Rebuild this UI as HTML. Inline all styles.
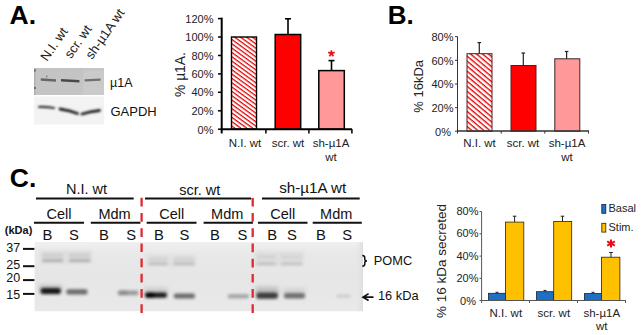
<!DOCTYPE html>
<html><head><meta charset="utf-8"><style>
html,body{margin:0;padding:0;background:#fff;width:641px;height:335px;overflow:hidden;}
svg{display:block;font-family:"Liberation Sans",sans-serif;}
</style></head><body>
<svg width="641" height="335" viewBox="0 0 641 335">
<defs>
<pattern id="hatch" patternUnits="userSpaceOnUse" width="8" height="3.5" patternTransform="rotate(36)">
<rect width="8" height="3.5" fill="#fff"/><rect width="8" height="1.25" fill="#e00000"/>
</pattern>
<pattern id="hatchB" patternUnits="userSpaceOnUse" width="8" height="3.85" patternTransform="rotate(40)">
<rect width="8" height="3.85" fill="#fff"/><rect width="8" height="1.35" fill="#e00000"/>
</pattern>
<filter id="b08" x="-50%" y="-50%" width="200%" height="200%"><feGaussianBlur stdDeviation="0.7"/></filter>
<filter id="b1" x="-50%" y="-50%" width="200%" height="200%"><feGaussianBlur stdDeviation="1"/></filter>
<filter id="b12" x="-50%" y="-50%" width="200%" height="200%"><feGaussianBlur stdDeviation="1.35"/></filter>
<filter id="b15" x="-50%" y="-50%" width="200%" height="200%"><feGaussianBlur stdDeviation="1.5"/></filter>
<filter id="b17" x="-50%" y="-50%" width="200%" height="200%"><feGaussianBlur stdDeviation="1.7"/></filter>
<filter id="b2" x="-50%" y="-50%" width="200%" height="200%"><feGaussianBlur stdDeviation="2"/></filter>
<linearGradient id="gC" x1="0" y1="0" x2="0" y2="1">
<stop offset="0" stop-color="#f0f0f0"/><stop offset="0.15" stop-color="#e9e9e9"/><stop offset="0.5" stop-color="#e6e6e6"/><stop offset="1" stop-color="#e9e9e9"/>
</linearGradient>
<linearGradient id="gCr" x1="0" y1="0" x2="1" y2="0">
<stop offset="0" stop-color="#e6e6e6" stop-opacity="0"/><stop offset="1" stop-color="#dedede"/>
</linearGradient>
</defs>

<!-- ============ PANEL A ============ -->
<text x="9.6" y="24.4" font-size="26.5" font-weight="bold">A.</text>
<g font-size="13.1" fill="#222">
<text transform="translate(47,62) rotate(-55)">N.I. wt</text>
<text transform="translate(71,59.3) rotate(-55)">scr. wt</text>
<text transform="translate(92,60) rotate(-55)">sh-µ1A wt</text>
</g>
<!-- blot mu1A -->
<rect x="34" y="68" width="70" height="27" fill="#c4c4c4"/>
<rect x="34" y="68" width="1.5" height="27" fill="#b0b0b0"/>
<rect x="83" y="68" width="21" height="27" fill="#cacaca"/>
<rect x="36" y="68" width="68" height="3" fill="#c2c2c2" opacity="0.6"/>
<g filter="url(#b08)">
<path d="M40.8,78.3 L56,79.3 L56,81.7 L40.8,80.7 Z" fill="#666"/>
<path d="M61,79.1 L79.4,79.9 L79.4,82.4 L61,81.6 Z" fill="#4a4a4a"/>
<path d="M84.6,79.3 L100.6,78.4 L100.6,80.8 L84.6,81.6 Z" fill="#707070"/>
<rect x="46" y="75.5" width="1.6" height="1.8" fill="#888"/>
<rect x="34.2" y="69.5" width="1.5" height="2" fill="#555"/>
<rect x="34.2" y="87" width="1.5" height="2" fill="#555"/>
</g>
<!-- blot GAPDH -->
<rect x="34" y="96.5" width="70" height="28" fill="#f3f3f3"/>
<g fill="none" stroke-linecap="round" filter="url(#b1)">
<path d="M39,107 Q47,106.8 54,108" stroke="#333" stroke-width="2.2"/>
<path d="M60,109 Q70,110.5 77.5,113.5" stroke="#222" stroke-width="2.8"/>
<path d="M82,114 Q90,111.5 99.5,110.5" stroke="#222" stroke-width="2.8"/>
</g>
<g font-size="12.5" fill="#111">
<text x="110" y="87.3">µ1A</text>
<text x="110.5" y="116.4" font-size="13">GAPDH</text>
</g>

<!-- chart A -->
<g font-size="11" fill="#222">
<text x="213.5" y="22.7" text-anchor="end">120%</text>
<text x="213.5" y="41.1" text-anchor="end">100%</text>
<text x="213.5" y="59.6" text-anchor="end">80%</text>
<text x="213.5" y="78" text-anchor="end">60%</text>
<text x="213.5" y="96.4" text-anchor="end">40%</text>
<text x="213.5" y="114.9" text-anchor="end">20%</text>
<text x="213.5" y="133.5" text-anchor="end">0%</text>
</g>
<text transform="translate(184.8,74.6) rotate(-90)" font-size="13.8" text-anchor="middle" fill="#222">% µ1A.</text>
<!-- bars A -->
<rect x="231.5" y="37" width="25" height="92.2" fill="url(#hatch)" stroke="#000" stroke-width="1.4"/>
<rect x="275.2" y="34.5" width="25.5" height="94.7" fill="#f00" stroke="#000" stroke-width="1.5"/>
<rect x="318.8" y="70.6" width="25.5" height="58.6" fill="#ff9999" stroke="#000" stroke-width="1.5"/>
<g stroke="#000" stroke-width="1.6">
<line x1="288" y1="34.5" x2="288" y2="18.8"/><line x1="285" y1="18.8" x2="291" y2="18.8"/>
<line x1="331.5" y1="70.6" x2="331.5" y2="60.6"/><line x1="328.5" y1="60.6" x2="334.5" y2="60.6"/>
</g>
<path d="M331.4,50.2 V53.4 M331.4,53.4 L334.6,52.4 M331.4,53.4 L333.4,56.2 M331.4,53.4 L329.4,56.2 M331.4,53.4 L328.2,52.4" stroke="#e8101a" stroke-width="1.7" fill="none"/>
<!-- axes A -->
<g stroke="#000" stroke-width="2">
<line x1="221.7" y1="17.6" x2="221.7" y2="133.4"/>
<line x1="220.7" y1="129.3" x2="352" y2="129.3"/>
</g>
<g stroke="#000" stroke-width="1.5">
<line x1="218" y1="18.6" x2="221" y2="18.6"/>
<line x1="218" y1="37" x2="221" y2="37"/>
<line x1="218" y1="55.5" x2="221" y2="55.5"/>
<line x1="218" y1="73.9" x2="221" y2="73.9"/>
<line x1="218" y1="92.3" x2="221" y2="92.3"/>
<line x1="218" y1="110.8" x2="221" y2="110.8"/>
<line x1="218" y1="129.2" x2="221" y2="129.2"/>
<line x1="265.9" y1="129" x2="265.9" y2="133.4"/>
<line x1="308.9" y1="129" x2="308.9" y2="133.4"/>
<line x1="351.9" y1="129" x2="351.9" y2="133.4"/>
</g>
<g font-size="11.5" fill="#222" text-anchor="middle">
<text x="245" y="146.5">N.I. wt</text>
<text x="288" y="146.5">scr. wt</text>
<text x="331" y="146.5">sh-µ1A</text>
<text x="331" y="160.9">wt</text>
</g>

<!-- ============ PANEL B ============ -->
<text x="387.8" y="24.4" font-size="26" font-weight="bold">B.</text>
<g font-size="11" fill="#222" text-anchor="end">
<text x="453.5" y="40.8">80%</text>
<text x="453.5" y="64.5">60%</text>
<text x="453.5" y="88.2">40%</text>
<text x="453.5" y="111.9">20%</text>
<text x="451" y="135.6">0%</text>
</g>
<text transform="translate(423,86.3) rotate(-90)" font-size="13" text-anchor="middle" fill="#222">% 16kDa</text>
<rect x="467" y="53.7" width="25" height="77.5" fill="url(#hatchB)" stroke="#5a1a1a" stroke-width="1"/>
<rect x="511" y="65.5" width="25" height="65.7" fill="#f00" stroke="#5a1a1a" stroke-width="1"/>
<rect x="554.8" y="58.8" width="25" height="72.4" fill="#ff9999" stroke="#3a2a2a" stroke-width="1"/>
<g stroke="#222" stroke-width="1.2">
<line x1="479.3" y1="53.7" x2="479.3" y2="42.6"/><line x1="477.5" y1="42.6" x2="481.1" y2="42.6"/>
<line x1="523.3" y1="65.5" x2="523.3" y2="53"/><line x1="521.5" y1="53" x2="525.1" y2="53"/>
<line x1="566.6" y1="58.8" x2="566.6" y2="51.5"/><line x1="564.8" y1="51.5" x2="568.4" y2="51.5"/>
</g>
<g stroke="#333" stroke-width="1">
<line x1="457.5" y1="36.6" x2="457.5" y2="133.6"/>
<line x1="455" y1="36.6" x2="457.5" y2="36.6"/>
<line x1="455" y1="60.3" x2="457.5" y2="60.3"/>
<line x1="455" y1="84" x2="457.5" y2="84"/>
<line x1="455" y1="107.7" x2="457.5" y2="107.7"/>
<line x1="455" y1="131.2" x2="457.5" y2="131.2"/>
<line x1="501.2" y1="131" x2="501.2" y2="133.6"/>
<line x1="544.8" y1="131" x2="544.8" y2="133.6"/>
<line x1="588.5" y1="131" x2="588.5" y2="133.6"/>
</g>
<line x1="457" y1="131.1" x2="589" y2="131.1" stroke="#333" stroke-width="1.5"/>
<g font-size="11.5" fill="#222" text-anchor="middle">
<text x="479.5" y="147">N.I. wt</text>
<text x="523" y="147">scr. wt</text>
<text x="567" y="147">sh-µ1A</text>
<text x="567" y="160.5">wt</text>
</g>

<!-- ============ PANEL C ============ -->
<text x="9.8" y="186.6" font-size="26.5" font-weight="bold">C.</text>
<g font-size="14.5" fill="#111" text-anchor="middle">
<text x="86.5" y="193.5">N.I. wt</text>
<text x="199.7" y="194.5">scr. wt</text>
<text x="312.7" y="193" font-size="15.2">sh-µ1A wt</text>
<text x="59" y="219">Cell</text>
<text x="114.6" y="219">Mdm</text>
<text x="171.8" y="219">Cell</text>
<text x="227.2" y="219">Mdm</text>
<text x="282.8" y="219">Cell</text>
<text x="336.2" y="219">Mdm</text>
</g>
<g stroke="#111" stroke-width="2">
<line x1="36" y1="198.5" x2="133.7" y2="198.5"/>
<line x1="145" y1="198.5" x2="251.2" y2="198.5"/>
<line x1="262" y1="198.5" x2="359.7" y2="198.5"/>
<line x1="34" y1="222.8" x2="84" y2="222.8"/>
<line x1="90.8" y1="222.8" x2="140.4" y2="222.8"/>
<line x1="146.7" y1="222.8" x2="196.5" y2="222.8"/>
<line x1="203.6" y1="222.8" x2="252.9" y2="222.8"/>
<line x1="258" y1="222.8" x2="307.5" y2="222.8"/>
<line x1="312.7" y1="222.8" x2="361.8" y2="222.8"/>
</g>
<text x="4.8" y="233.5" font-size="11" font-weight="bold" fill="#111">(kDa)</text>
<g font-size="14.8" fill="#111">
<text x="42.5" y="240.3">B</text><text x="69" y="240.3">S</text><text x="99" y="240.3">B</text><text x="126.3" y="240.3">S</text>
<text x="154" y="240">B</text><text x="179.5" y="240">S</text><text x="210" y="240">B</text><text x="237.6" y="240">S</text>
<text x="267.2" y="240">B</text><text x="286.9" y="240">S</text><text x="316" y="240">B</text><text x="342.3" y="240">S</text>
</g>
<g font-size="12.5" fill="#111">
<text x="6.3" y="252.2">37</text>
<text x="6.3" y="269">25</text>
<text x="6.3" y="281.6">20</text>
<text x="6.3" y="298.8">15</text>
</g>
<g stroke="#111" stroke-width="2">
<line x1="23" y1="248.9" x2="34.6" y2="248.9"/>
<line x1="23" y1="266.2" x2="34.6" y2="266.2"/>
<line x1="23" y1="280.1" x2="34.6" y2="280.1"/>
<line x1="23" y1="293.9" x2="34.6" y2="293.9"/>
</g>
<!-- blot C -->
<rect x="34.6" y="242" width="328.4" height="69.2" fill="url(#gC)"/>
<rect x="355" y="242" width="8" height="69.2" fill="url(#gCr)"/>
<g filter="url(#b15)">
<!-- POMC haze -->
<rect x="40" y="250" width="52" height="14" fill="#d8d8d8" opacity="0.6"/>
<rect x="146" y="254" width="50" height="13" fill="#dadada" opacity="0.5"/>
<rect x="255" y="251" width="49" height="15" fill="#d8d8d8" opacity="0.6"/>
</g>
<g filter="url(#b12)">
<!-- POMC bands -->
<rect x="42.4" y="253.9" width="20.6" height="2.6" fill="#c6c6c6"/>
<rect x="42.4" y="259" width="20.6" height="2.8" fill="#acacac"/>
<rect x="69.1" y="253.9" width="21" height="2.6" fill="#c6c6c6"/>
<rect x="69.1" y="259" width="21" height="2.8" fill="#acacac"/>
<rect x="148.6" y="257.8" width="19.1" height="2.6" fill="#cdcdcd"/>
<rect x="148.6" y="262.4" width="19.1" height="2.6" fill="#bababa"/>
<rect x="173.4" y="257.8" width="21" height="2.6" fill="#cdcdcd"/>
<rect x="173.4" y="262.4" width="21" height="2.6" fill="#b8b8b8"/>
<rect x="256.8" y="255.5" width="18.7" height="3" fill="#cfcfcf"/>
<rect x="256.8" y="262.4" width="18.7" height="2.6" fill="#bcbcbc"/>
<rect x="281.2" y="255.5" width="20.6" height="3" fill="#d2d2d2"/>
<rect x="281.2" y="262.4" width="20.6" height="2.6" fill="#c0c0c0"/>
</g>
<g filter="url(#b2)">
<!-- 16 kDa halos -->
<rect x="39" y="284.5" width="23" height="8" fill="#b8b8b8" opacity="0.7"/>
<rect x="144" y="287.5" width="24" height="7" fill="#c0c0c0" opacity="0.7"/>
<rect x="255.5" y="286.5" width="23" height="8" fill="#b0b0b0" opacity="0.7"/>
<rect x="283" y="288" width="22.5" height="6" fill="#c4c4c4" opacity="0.6"/>
</g>
<g filter="url(#b17)">
<!-- 16 kDa bands -->
<rect x="40.6" y="288" width="20.2" height="6" rx="2.5" fill="#141414"/>
<rect x="66.3" y="289.3" width="21.2" height="5.2" rx="2" fill="#6a6a6a"/>
<rect x="118" y="290.6" width="20.6" height="4.6" rx="2" fill="#9a9a9a"/>
<rect x="118" y="290.8" width="10" height="4.2" rx="1.5" fill="#888"/>
<rect x="145.2" y="292.6" width="21.8" height="5.2" rx="2.5" fill="#181818"/>
<rect x="145.2" y="292.8" width="10" height="4.8" rx="2" fill="#050505"/>
<rect x="173.8" y="293.6" width="21.2" height="5" rx="2" fill="#6a6a6a"/>
<rect x="227.8" y="294.2" width="21" height="4" rx="1.5" fill="#a0a0a0"/>
<rect x="256.3" y="292.6" width="21.6" height="6.2" rx="2.5" fill="#3a3a3a"/>
<rect x="283.9" y="293.1" width="21.2" height="5.4" rx="2.5" fill="#6e6e6e"/>
<rect x="336.5" y="294.5" width="14.5" height="3" rx="1.5" fill="#cacaca"/>
</g>
<!-- red dashed lines -->
<g stroke="#de2a32" stroke-width="2.3" stroke-dasharray="8.7 6.5">
<line x1="141.6" y1="197.8" x2="141.6" y2="313"/>
<line x1="252.7" y1="197.9" x2="252.7" y2="313"/>
</g>
<g font-size="12.8" fill="#111">

<text x="373.8" y="264.7">POMC</text>

<text x="378" y="299.6">16 kDa</text>
</g>

<path d="M362.3,255.6 Q364.8,255.6 364.8,258 V259.2 Q364.8,260.9 367,260.9 Q364.8,260.9 364.8,262.6 V264 Q364.8,266.2 362.3,266.2" stroke="#111" stroke-width="1.5" fill="none"/>
<path d="M373.5,297.2 H363.5 M368.6,293.6 L363,297.2 L368.6,300.6" stroke="#111" stroke-width="1.7" fill="none"/>
<!-- chart C -->
<text transform="translate(446,261) rotate(-90)" font-size="13.5" text-anchor="middle" fill="#222">% 16 kDa secreted</text>
<g font-size="11" fill="#222" text-anchor="end">
<text x="478.5" y="215">80%</text>
<text x="478.5" y="237.3">60%</text>
<text x="478.5" y="259.6">40%</text>
<text x="478.5" y="281.9">20%</text>
<text x="476" y="304.5">0%</text>
</g>
<rect x="488.5" y="293.3" width="17" height="7.2" fill="#1f6fc5" stroke="#123" stroke-width="0.8"/>
<rect x="505.5" y="222.1" width="18.3" height="78.4" fill="#ffc000" stroke="#332200" stroke-width="0.8"/>
<rect x="536.5" y="291.7" width="17" height="8.8" fill="#1f6fc5" stroke="#123" stroke-width="0.8"/>
<rect x="553.7" y="221.4" width="18" height="79.1" fill="#ffc000" stroke="#332200" stroke-width="0.8"/>
<rect x="584.4" y="293.6" width="17.2" height="6.9" fill="#1f6fc5" stroke="#123" stroke-width="0.8"/>
<rect x="601.4" y="257.2" width="18.5" height="43.3" fill="#ffc000" stroke="#332200" stroke-width="0.8"/>
<g stroke="#222" stroke-width="1">
<line x1="514.6" y1="222" x2="514.6" y2="216.2"/><line x1="512.8" y1="216.2" x2="516.4" y2="216.2"/>
<line x1="562.5" y1="221.4" x2="562.5" y2="216.2"/><line x1="560.7" y1="216.2" x2="564.3" y2="216.2"/>
<line x1="611" y1="257.2" x2="611" y2="252.5"/><line x1="609.2" y1="252.5" x2="612.8" y2="252.5"/>
<line x1="497" y1="293.3" x2="497" y2="292.3"/><line x1="495.5" y1="292.3" x2="498.5" y2="292.3"/>
<line x1="545" y1="291.7" x2="545" y2="290.4"/><line x1="543.5" y1="290.4" x2="546.5" y2="290.4"/>
<line x1="593" y1="293.6" x2="593" y2="292.3"/><line x1="591.5" y1="292.3" x2="594.5" y2="292.3"/>
</g>
<path d="M611,239.4 V247.6 M607.2,241.4 L614.8,245.6 M607.2,245.6 L614.8,241.4" stroke="#ee0a14" stroke-width="2" fill="none"/>
<g stroke="#555" stroke-width="1">
<line x1="481.6" y1="211.5" x2="481.6" y2="303"/>
<line x1="479.5" y1="211.5" x2="481.6" y2="211.5"/>
<line x1="479.5" y1="233.8" x2="481.6" y2="233.8"/>
<line x1="479.5" y1="256.1" x2="481.6" y2="256.1"/>
<line x1="479.5" y1="278.4" x2="481.6" y2="278.4"/>
<line x1="479.5" y1="300.5" x2="481.6" y2="300.5"/>
<line x1="481.6" y1="300.5" x2="626" y2="300.5"/>
<line x1="529.5" y1="300.5" x2="529.5" y2="303"/>
<line x1="577.5" y1="300.5" x2="577.5" y2="303"/>
<line x1="625.5" y1="300.5" x2="625.5" y2="303"/>
</g>
<g font-size="11.5" fill="#222" text-anchor="middle">
<text x="505.8" y="316.5">N.I. wt</text>
<text x="553.8" y="316.5">scr. wt</text>
<text x="601.8" y="316.5">sh-µ1A</text>
<text x="601.8" y="330">wt</text>
</g>
<!-- legend -->
<rect x="601.8" y="204.5" width="4" height="8.8" fill="#1f6fc5" stroke="#123" stroke-width="0.8"/>
<rect x="601.8" y="223.3" width="4" height="8.8" fill="#ffc000" stroke="#332200" stroke-width="0.8"/>
<g font-size="11" fill="#222">
<text x="608.5" y="212.3">Basal</text>
<text x="608.5" y="231">Stim.</text>
</g>
</svg>
</body></html>
